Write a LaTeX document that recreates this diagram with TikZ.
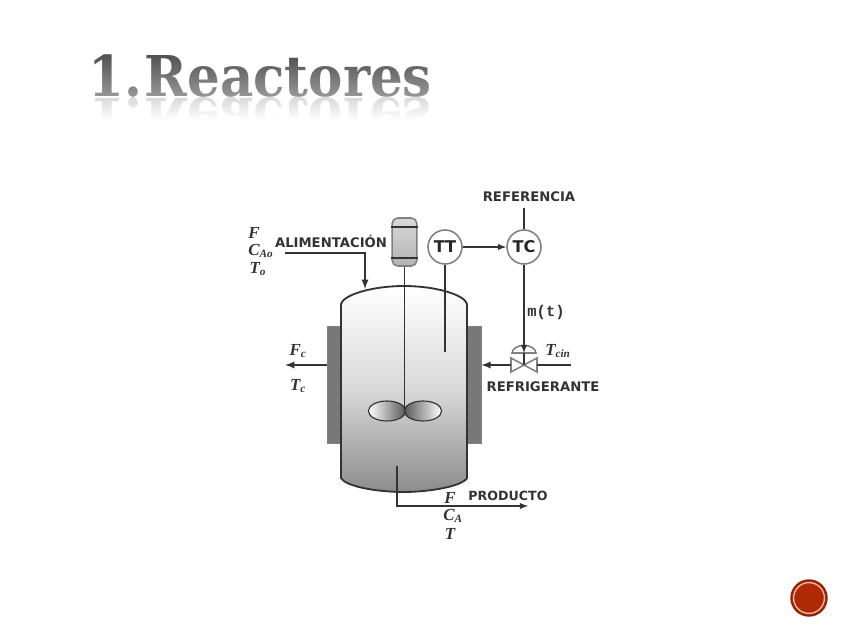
\documentclass[tikz,border=0pt]{standalone}
\usepackage{fontspec}
\usepackage{xcolor}
\setmainfont{Liberation Serif}
\setsansfont{DejaVu Sans}
\setmonofont{Liberation Mono}
\newfontfamily\titlefont[FakeStretch=0.915]{DejaVu Serif Bold}
\usetikzlibrary{shapes.geometric, arrows, positioning, calc, fadings}
\definecolor{linegray}{HTML}{333333}
\definecolor{jacketgray}{HTML}{787878}
\definecolor{btnred}{HTML}{AE2A04}
\tikzfading[name=titlefade, top color=transparent!100, bottom color=transparent!55]
\tikzfading[name=mirrorfade, top color=transparent!45, bottom color=transparent!0]

\begin{document}
\begin{tikzpicture}[
    x=0.025cm, y=-0.025cm,
    >=latex,
    pipe/.style={draw=linegray, line width=1.3pt},
    thinpipe/.style={draw=linegray, line width=1pt},
    headline/.style={anchor=base west, inner sep=0pt, font=\titlefont\fontsize{40}{44}\selectfont},
    tag/.style={font=\sffamily\bfseries\fontsize{9.4}{11}\selectfont, text=linegray, inner sep=0pt},
    var/.style={font=\bfseries\itshape\fontsize{12}{13}\selectfont, text=linegray, inner sep=0pt},
    instr/.style={draw=gray, fill=white, circle, line width=1.1pt, minimum size=0.85cm, inner sep=0pt, text=black!85, font=\sffamily\bfseries\fontsize{11.5}{12}\selectfont},
    fitting/.style={draw=gray, fill=white, line width=1.1pt},
    jacket/.style={draw=gray, fill=jacketgray, line width=0.4pt},
    blade/.style={draw=linegray, ellipse, line width=0.8pt, minimum width=0.93cm, minimum height=0.5cm, inner sep=0pt}
  ]
  \useasboundingbox (0,0) rectangle (848,636);

  % Title
  \node[headline, text=black!72] (title) at (88,97) {1.\hspace{-15pt} Reactores};
  \node[headline, text=black!32, yscale=-1, transform shape] (mirror) at (88,99) {1.\hspace{-15pt} Reactores};
  \fill[white, path fading=titlefade] (80,48) rectangle (440,98);
  \fill[white, path fading=mirrorfade] (80,98) rectangle (440,120);
  \fill[white] (80,120) rectangle (440,150);

  % Vessel
  \node[jacket, minimum width=0.35cm, minimum height=2.93cm, inner sep=0pt] (jacketL) at (334,384.5) {};
  \node[jacket, minimum width=0.35cm, minimum height=2.93cm, inner sep=0pt] (jacketR) at (474,384.5) {};
  \draw[pipe, top color=white, bottom color=black!45, middle color=black!15]
    (341,478) -- (341,304) .. controls (343,295) and (372,286) .. (404,286)
    .. controls (436,286) and (465,295) .. (467,304) -- (467,478)
    .. controls (463,486) and (430,492) .. (404,492) .. controls (375,492) and (345,486) .. (341,478) -- cycle;

  % Stirrer
  \node[draw=gray, line width=1.1pt, top color=black!15, bottom color=black!30, rounded corners=4pt, minimum width=0.62cm, minimum height=1.2cm, inner sep=0pt] (motor) at (404.5,242) {};
  \draw[draw=linegray, line width=1.5pt] (391,227) -- (418,227);
  \draw[draw=linegray, line width=1.5pt] (391,258) -- (418,258);
  \node[blade, left color=white, right color=black!65] (bladeL) at (387,411) {};
  \node[blade, left color=black!65, right color=white] (bladeR) at (423,411) {};
  \coordinate (hub) at (404.5,411);
  \draw[thinpipe] (motor) -- (hub);

  % Instruments
  \node[instr] (tt) at (445,247) {TT};
  \node[instr] (tc) at (524,247) {TC};
  \coordinate (probe) at (445,352);
  \coordinate (setpoint) at (524,208);
  \node[tag] (ref) at (529,197) {REFERENCIA};
  \node[font=\ttfamily\bfseries\fontsize{11}{12}\selectfont, text=linegray, inner sep=0pt] (mt) at (546,313) {m(t)};

  % Valve
  \coordinate (valve) at (524,365);
  \coordinate (valveL) at (511,365);
  \coordinate (valveR) at (537,365);
  \coordinate (head) at (524,353);
  \draw[fitting] (valve) -- (511,358) -- (511,372) -- cycle;
  \draw[fitting] (valve) -- (537,358) -- (537,372) -- cycle;
  \draw[fitting] (512,353) .. controls (513,343) and (535,343) .. (536,353) -- cycle;
  \draw[thinpipe] (head) -- (valve);

  % Connections
  \coordinate (feedin) at (285,253);
  \coordinate (feedtop) at (365,289);
  \coordinate (coolin) at (571,365);
  \coordinate (coolout) at (285,365);
  \coordinate (drain) at (397,466);
  \coordinate (prodout) at (528,506);
  \draw[pipe, ->] (feedin) -| (feedtop);
  \draw[thinpipe] (tt) -- (probe);
  \draw[thinpipe, ->] (tt) -- (tc);
  \draw[thinpipe] (setpoint) -- (tc);
  \draw[thinpipe, ->] (tc) -- (head);
  \draw[pipe] (coolin) -- (valveR);
  \draw[pipe, ->] (valveL) -- (jacketR.east |- valveL);
  \draw[pipe, ->] (jacketL.west |- coolout) -- (coolout);
  \draw[thinpipe, ->] (drain) |- (prodout);

  % Labels
  \node[tag] (feed) at (331,241) {ALIMENTACIÓN};
  \node[tag] (cool) at (543,387) {REFRIGERANTE};
  \node[tag, font=\sffamily\bfseries\fontsize{9}{11}\selectfont] (prod) at (508,496) {PRODUCTO};
  \node[var] (f0) at (254,233) {F};
  \node[var] (ca0) at (261,251) {C\textsubscript{Ao}};
  \node[var] (t0) at (258,269) {T\textsubscript{o}};
  \node[var] (fc) at (298,351) {F\textsubscript{c}};
  \node[var] (tcout) at (298,386) {T\textsubscript{c}};
  \node[var] (tcin) at (558,351) {T\textsubscript{cin}};
  \node[var] (f1) at (450,498) {F};
  \node[var] (ca1) at (453,516) {C\textsubscript{A}};
  \node[var] (t1) at (450,534) {T};

  % Button
  \node[circle, draw=btnred!80!black, fill=btnred, line width=1pt, minimum size=0.9cm, inner sep=0pt] (btn) at (809,598) {};
  \node[circle, draw=white!70!btnred, line width=0.9pt, minimum size=0.77cm, inner sep=0pt] (ring) at (btn) {};
\end{tikzpicture}
\end{document}
